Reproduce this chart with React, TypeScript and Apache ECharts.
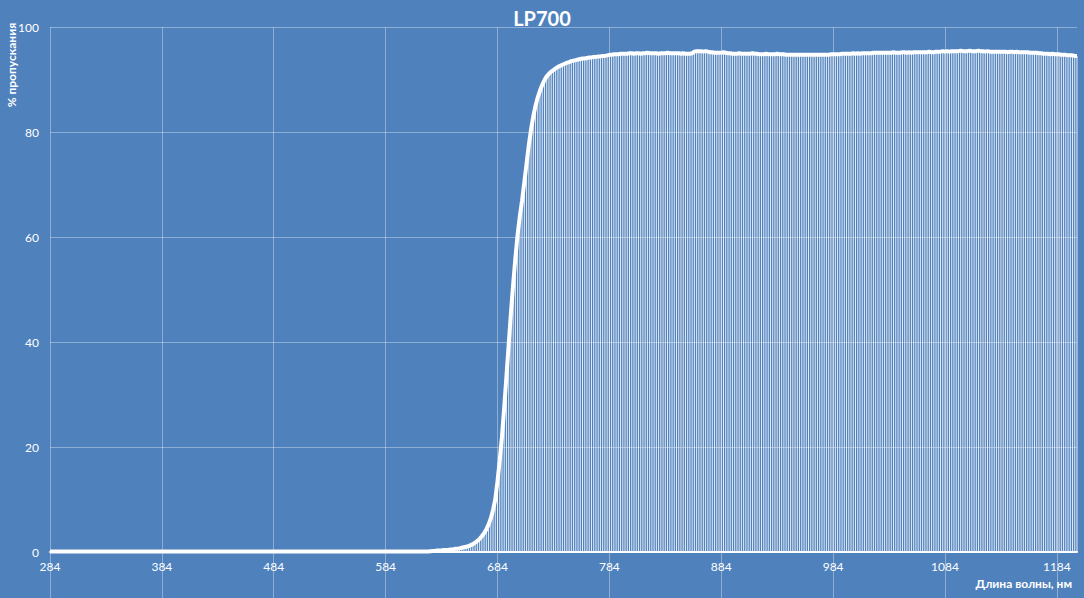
import React, { useEffect, useRef } from "react";
import * as echarts from "echarts";

const START_NM = 284;
const STEP_NM = 2;

// Transmission (%) every 2 nm from 284 nm to 1202 nm, rows of 10 values
const transmission: number[] = [
  // 284
  0.1, 0.1, 0.1, 0.1, 0.1, 0.1, 0.1, 0.1, 0.1, 0.1,
  // 304
  0.1, 0.1, 0.1, 0.1, 0.1, 0.1, 0.1, 0.1, 0.1, 0.1,
  // 324
  0.1, 0.1, 0.1, 0.1, 0.1, 0.1, 0.1, 0.1, 0.1, 0.1,
  // 344
  0.1, 0.1, 0.1, 0.1, 0.1, 0.1, 0.1, 0.1, 0.1, 0.1,
  // 364
  0.1, 0.1, 0.1, 0.1, 0.1, 0.1, 0.1, 0.1, 0.1, 0.1,
  // 384
  0.1, 0.1, 0.1, 0.1, 0.1, 0.1, 0.1, 0.1, 0.1, 0.1,
  // 404
  0.1, 0.1, 0.1, 0.1, 0.1, 0.1, 0.1, 0.1, 0.1, 0.1,
  // 424
  0.1, 0.1, 0.1, 0.1, 0.1, 0.1, 0.1, 0.1, 0.1, 0.1,
  // 444
  0.1, 0.1, 0.1, 0.1, 0.1, 0.1, 0.1, 0.1, 0.1, 0.1,
  // 464
  0.1, 0.1, 0.1, 0.1, 0.1, 0.1, 0.1, 0.1, 0.1, 0.1,
  // 484
  0.1, 0.1, 0.1, 0.1, 0.1, 0.1, 0.1, 0.1, 0.1, 0.1,
  // 504
  0.1, 0.1, 0.1, 0.1, 0.1, 0.1, 0.1, 0.1, 0.1, 0.1,
  // 524
  0.1, 0.1, 0.1, 0.1, 0.1, 0.1, 0.1, 0.1, 0.1, 0.1,
  // 544
  0.1, 0.1, 0.1, 0.1, 0.1, 0.1, 0.1, 0.1, 0.1, 0.1,
  // 564
  0.1, 0.1, 0.1, 0.1, 0.1, 0.1, 0.1, 0.1, 0.1, 0.1,
  // 584
  0.1, 0.1, 0.1, 0.1, 0.1, 0.1, 0.1, 0.1, 0.1, 0.1,
  // 604
  0.1, 0.1, 0.1, 0.1, 0.1, 0.1, 0.1, 0.1, 0.1, 0.1,
  // 624
  0.15, 0.2, 0.2, 0.3, 0.3, 0.3, 0.4, 0.4, 0.4, 0.5,
  // 644
  0.5, 0.6, 0.6, 0.7, 0.8, 0.9, 1.0, 1.1, 1.3, 1.5,
  // 664
  1.8, 2.1, 2.5, 3.0, 3.6, 4.3, 5.2, 6.4, 8.0, 10.0,
  // 684
  13.5, 17.5, 22, 27.5, 33.5, 39.5, 45.5, 51, 56, 60.5,
  // 704
  64, 67, 70.5, 74, 77.5, 80.5, 83, 85, 86.6, 87.9,
  // 724
  89.0, 89.9, 90.6, 91.1, 91.5, 91.8, 92.1, 92.4, 92.6, 92.8,
  // 744
  93.0, 93.2, 93.3, 93.5, 93.6, 93.7, 93.8, 93.9, 94.0, 94.0,
  // 764
  94.1, 94.2, 94.2, 94.3, 94.3, 94.4, 94.4, 94.5, 94.5, 94.6,
  // 784
  94.7, 94.7, 94.8, 94.8, 94.8, 94.9, 94.9, 94.9, 94.9, 95.0,
  // 804
  95.0, 94.9, 95.0, 95.0, 94.9, 95.0, 95.0, 95.1, 95.0, 95.0,
  // 824
  95.0, 95.0, 94.9, 95.0, 95.0, 95.0, 95.1, 95.0, 95.0, 95.0,
  // 844
  95.0, 95.0, 94.9, 95.0, 94.9, 94.9, 94.9, 95.0, 95.3, 95.4,
  // 864
  95.4, 95.4, 95.3, 95.4, 95.3, 95.2, 95.2, 95.1, 95.1, 95.1,
  // 884
  95.1, 95.2, 95.1, 95.0, 95.0, 94.9, 94.9, 94.9, 95.0, 94.9,
  // 904
  94.9, 94.9, 94.9, 94.9, 95.0, 94.9, 94.9, 94.8, 94.8, 94.8,
  // 924
  94.9, 94.8, 94.8, 94.8, 94.8, 94.9, 94.8, 94.8, 94.8, 94.7,
  // 944
  94.7, 94.7, 94.7, 94.7, 94.7, 94.7, 94.7, 94.7, 94.7, 94.7,
  // 964
  94.7, 94.7, 94.7, 94.7, 94.7, 94.7, 94.7, 94.7, 94.7, 94.8,
  // 984
  94.8, 94.8, 94.8, 94.8, 94.9, 94.9, 94.9, 94.9, 94.9, 95.0,
  // 1004
  94.9, 95.0, 94.9, 95.0, 95.0, 95.0, 95.0, 95.0, 95.1, 95.1,
  // 1024
  95.1, 95.1, 95.1, 95.1, 95.1, 95.1, 95.1, 95.2, 95.1, 95.1,
  // 1044
  95.1, 95.2, 95.2, 95.1, 95.2, 95.1, 95.2, 95.2, 95.2, 95.2,
  // 1064
  95.2, 95.2, 95.2, 95.3, 95.2, 95.2, 95.3, 95.3, 95.3, 95.4,
  // 1084
  95.3, 95.4, 95.3, 95.4, 95.4, 95.4, 95.4, 95.5, 95.4, 95.4,
  // 1104
  95.4, 95.5, 95.4, 95.4, 95.4, 95.5, 95.4, 95.4, 95.3, 95.4,
  // 1124
  95.3, 95.3, 95.3, 95.3, 95.3, 95.3, 95.3, 95.3, 95.2, 95.3,
  // 1144
  95.3, 95.2, 95.3, 95.2, 95.2, 95.2, 95.2, 95.2, 95.1, 95.1,
  // 1164
  95.1, 95.1, 95.0, 95.0, 94.9, 94.9, 94.9, 94.8, 94.9, 94.8,
  // 1184
  94.8, 94.8, 94.7, 94.7, 94.7, 94.6, 94.6, 94.6, 94.5, 94.5,
];

const wavelengths: string[] = transmission.map((_, i) => String(START_NM + i * STEP_NM));

const TITLE = "LP700";
const Y_NAME = "% пропускания";
const X_NAME = "Длина волны, нм";

const BG = "#4F81BD";
const GRID = "rgba(255,255,255,0.35)";
const FONT = "Lato, 'Open Sans', sans-serif";

export default function App() {
  const ref = useRef<HTMLDivElement>(null);

  useEffect(() => {
    if (!ref.current) return;
    const chart = echarts.init(ref.current, undefined, { renderer: "svg" });
    chart.setOption({
      animation: false,
      backgroundColor: BG,
      textStyle: { fontFamily: FONT },
      title: {
        text: TITLE,
        left: "center",
        top: 3,
        textStyle: { color: "#fff", fontSize: 20, fontWeight: "bold", fontFamily: FONT },
      },
      grid: { left: 50, right: 7, top: 27, bottom: 46, containLabel: false },
      xAxis: {
        type: "category",
        data: wavelengths,
        boundaryGap: false,
        axisLine: { show: true, lineStyle: { color: "#fff", width: 2 } },
        axisTick: {
          show: true,
          interval: 49,
          length: 46,
          lineStyle: { color: GRID, width: 1 },
        },
        axisLabel: {
          interval: 49,
          color: "#fff",
          fontSize: 12,
          margin: 8,
          fontFamily: FONT,
        },
        splitLine: { show: true, interval: 49, lineStyle: { color: GRID, width: 1 } },
      },
      yAxis: {
        type: "value",
        min: 0,
        max: 100,
        interval: 20,
        axisLine: { show: false },
        axisTick: { show: false },
        axisLabel: { color: "#fff", fontSize: 12, margin: 11, fontFamily: FONT },
        splitLine: { show: true, lineStyle: { color: GRID, width: 1 } },
      },
      series: [
        {
          type: "bar",
          data: transmission,
          barWidth: 1,
          itemStyle: { color: "rgba(255,255,255,0.85)" },
          silent: true,
          z: 2,
        },
        {
          type: "line",
          data: transmission,
          showSymbol: false,
          symbol: "none",
          lineStyle: { color: "#fff", width: 4 },
          silent: true,
          z: 3,
        },
      ],
      graphic: [
        {
          type: "text",
          x: 11,
          y: 65,
          rotation: Math.PI / 2,
          style: {
            text: Y_NAME,
            fill: "#fff",
            font: `bold 12px ${FONT}`,
            textAlign: "center",
            textVerticalAlign: "middle",
          },
        },
        {
          type: "text",
          x: 1072,
          y: 583,
          style: {
            text: X_NAME,
            fill: "#fff",
            font: `bold 12px ${FONT}`,
            textAlign: "right",
            textVerticalAlign: "middle",
          },
        },
      ],
    });
    return () => chart.dispose();
  }, []);

  return (
    <div
      ref={ref}
      style={{ position: "absolute", left: 0, top: 0, width: 1084, height: 598 }}
    />
  );
}
